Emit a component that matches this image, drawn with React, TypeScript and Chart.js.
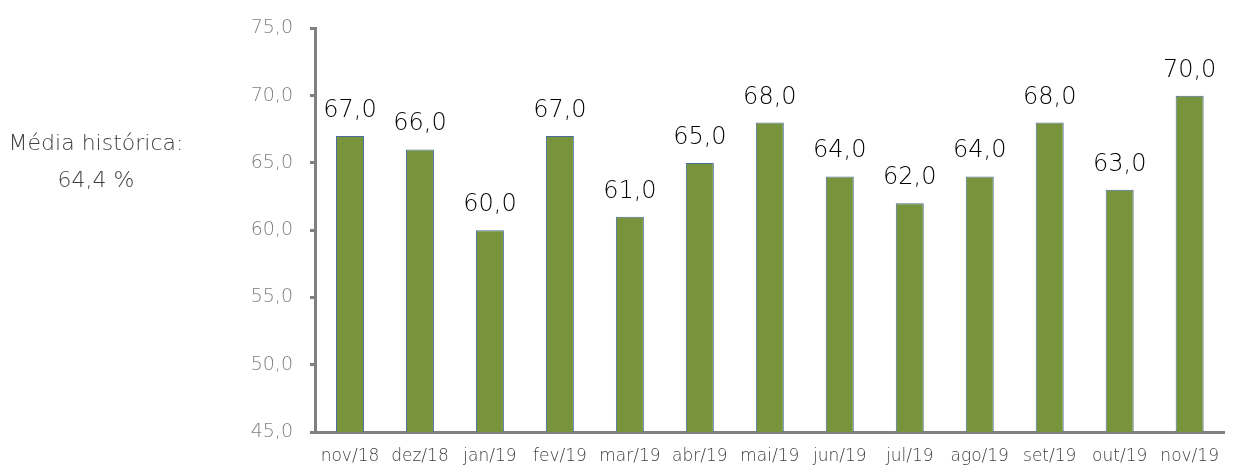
import React, { useEffect, useRef } from "react";
import { Chart, registerables } from "chart.js";

Chart.register(...registerables);

const categories = ["nov/18", "dez/18", "jan/19", "fev/19", "mar/19", "abr/19", "mai/19", "jun/19", "jul/19", "ago/19", "set/19", "out/19", "nov/19"];
const values = [67, 66, 60, 67, 61, 65, 68, 64, 62, 64, 68, 63, 70];
const annotationLines = ["Média histórica:", "64,4 %"];
const yMin = 45;
const yMax = 75;
const yStep = 5;

const fmt = (v: number) => v.toFixed(1).replace(".", ",");
const FONT = "'DejaVu Sans', sans-serif";

const labelPlugin = {
  id: "barLabels",
  afterDatasetsDraw(chart: any) {
    const ctx = chart.ctx;
    const meta = chart.getDatasetMeta(0);
    ctx.save();
    ctx.fillStyle = "#000000";
    ctx.font = `200 24px ${FONT}`;
    ctx.textAlign = "center";
    ctx.textBaseline = "alphabetic";
    meta.data.forEach((el: any, i: number) => {
      ctx.fillText(fmt(values[i]), el.x, el.y - 19);
    });
    ctx.fillStyle = "#404040";
    ctx.font = `200 22px ${FONT}`;
    ctx.fillText(annotationLines[0], 96, 150);
    ctx.fillText(annotationLines[1], 96, 187);
    ctx.restore();
  },
};

export default function App() {
  const ref = useRef<HTMLCanvasElement>(null);
  useEffect(() => {
    if (!ref.current) return;
    const chart = new Chart(ref.current, {
      type: "bar",
      data: {
        labels: categories,
        datasets: [
          {
            data: values,
            backgroundColor: "#77933C",
            borderColor: "#4A6E9C",
            borderWidth: 1,
            barPercentage: 0.4,
            categoryPercentage: 1,
          },
        ],
      },
      options: {
        animation: false,
        responsive: true,
        maintainAspectRatio: false,
        layout: { padding: { top: 23, right: 1, left: 0, bottom: 0 } },
        plugins: { legend: { display: false }, tooltip: { enabled: false } },
        scales: {
          x: {
            afterFit: (s: any) => { s.height = 37; },
            grid: { display: false, drawTicks: false },
            border: { display: true, color: "#808080", width: 3 },
            ticks: { color: "#404040", font: { family: FONT, size: 17, weight: "200" }, padding: 14, maxRotation: 0, autoSkip: false },
          },
          y: {
            min: yMin,
            max: yMax,
            afterFit: (s: any) => { s.width = 315; },
            grid: { drawOnChartArea: false, drawTicks: true, tickLength: 5, color: "#808080", lineWidth: 3 },
            border: { display: true, color: "#808080", width: 3 },
            ticks: {
              stepSize: yStep,
              color: "#7f7f7f",
              font: { family: FONT, size: 19, weight: "200" },
              padding: 17,
              callback: (v: any) => fmt(Number(v)),
            },
          },
        },
      },
      plugins: [labelPlugin],
    });
    return () => chart.destroy();
  }, []);
  return (
    <div style={{ position: "absolute", left: 0, top: 0, width: 1233, height: 469, background: "#fff" }}>
      <canvas ref={ref} />
    </div>
  );
}
